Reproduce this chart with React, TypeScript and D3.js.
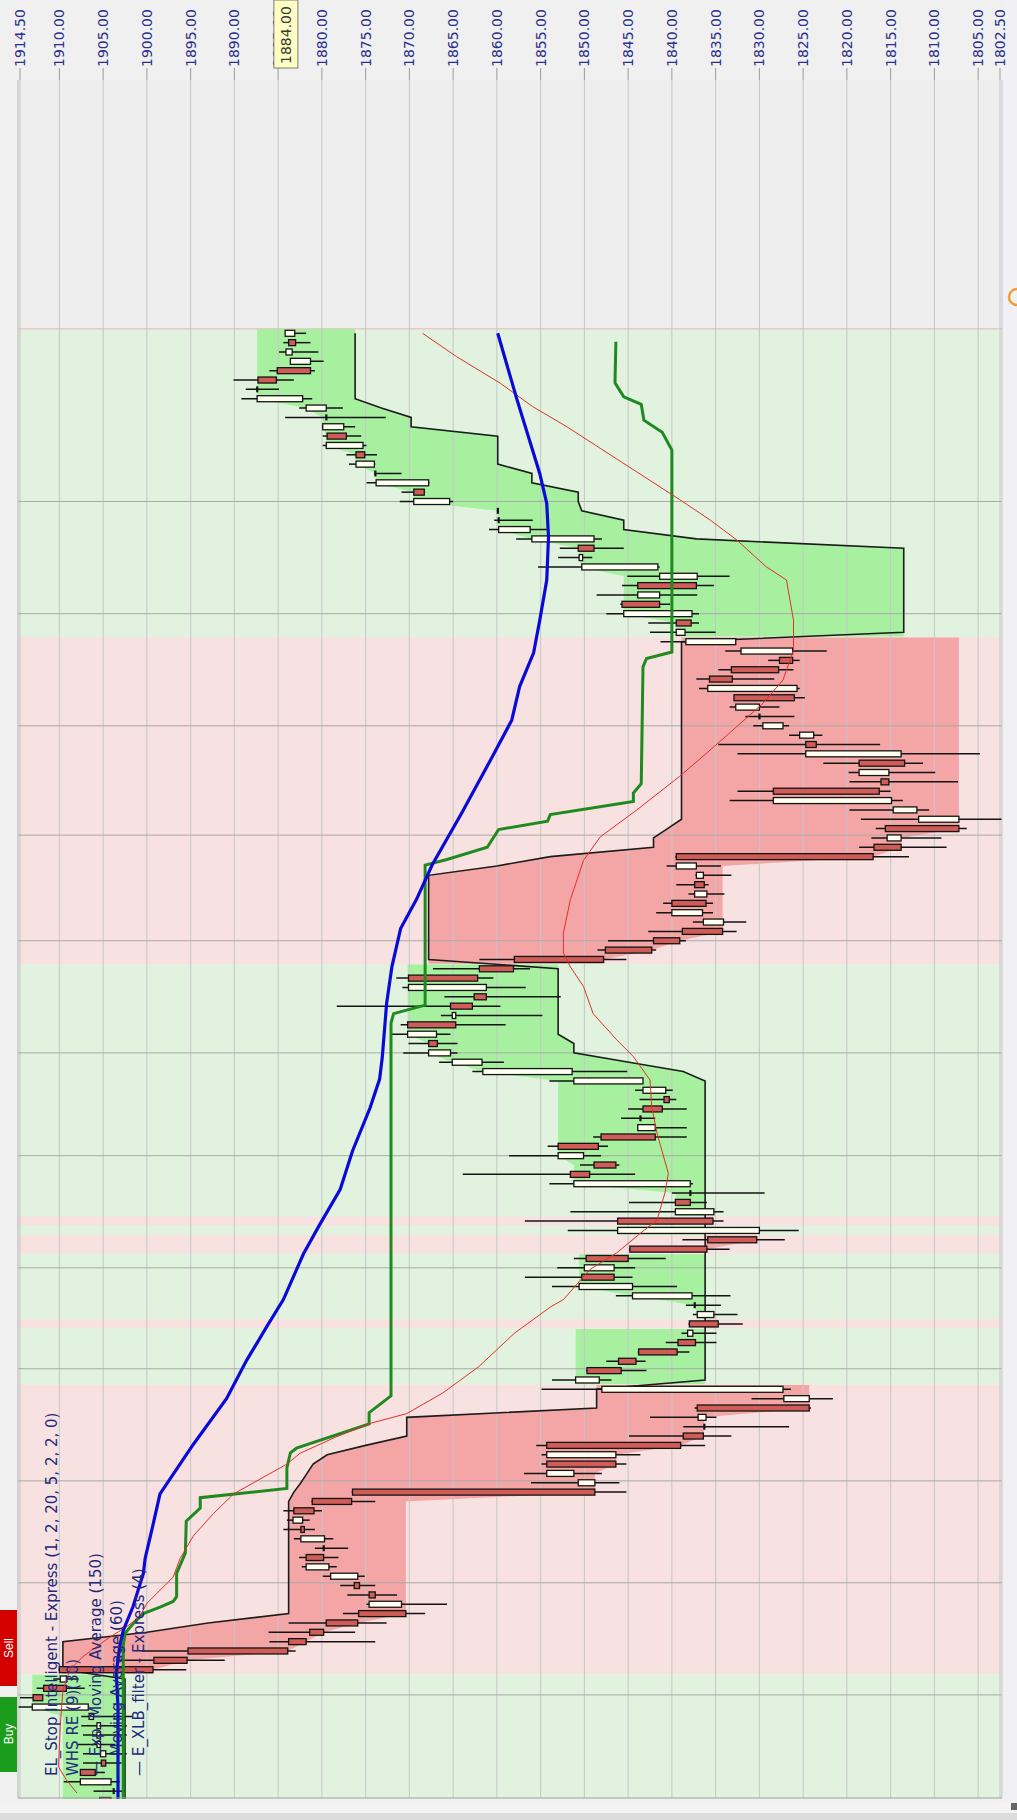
import React from 'react';
import * as d3 from 'd3';

const WIDTH = 1017;
const HEIGHT = 1820;

// price axis (rotated chart: price runs left -> right, high -> low)
const priceTicks = [1914.5, 1910, 1905, 1900, 1895, 1890, 1885, 1880, 1875, 1870, 1865, 1860, 1855, 1850, 1845, 1840, 1835, 1830, 1825, 1820, 1815, 1810, 1805, 1802.5];
const lastPrice = 1884.0;

// bars, newest first (index 0 = latest bar, drawn at the top)
const highs = [1884.2,1884.4,1884.9,1883.6,1886.0,1890.1,1888.7,1889.2,1882.6,1884.2,1880.0,1879.9,1879.9,1877.2,1876.9,1874.0,1874.9,1870.9,1871.1,1860.0,1860.3,1860.9,1857.8,1852.8,1853.0,1855.3,1845.1,1845.7,1848.6,1845.9,1847.5,1842.7,1842.5,1841.3,1833.9,1829.0,1834.7,1837.2,1836.9,1832.9,1833.4,1831.6,1830.7,1826.6,1834.7,1832.5,1822.7,1819.8,1819.7,1832.5,1833.4,1819.7,1818.4,1816.7,1817.2,1818.6,1839.6,1840.6,1837.3,1839.5,1838.1,1841.0,1841.8,1837.6,1842.7,1847.3,1848.5,1862.0,1867.3,1871.5,1870.8,1866.0,1878.3,1866.4,1871.0,1872.0,1870.1,1870.7,1866.6,1862.8,1854.0,1844.2,1843.7,1845.0,1845.8,1843.9,1849.0,1854.2,1858.6,1850.5,1863.9,1854.0,1840.0,1844.9,1851.6,1856.8,1851.9,1838.8,1844.9,1851.2,1853.1,1856.8,1853.7,1846.4,1838.4,1837.6,1838.1,1838.9,1840.7,1843.9,1847.5,1849.8,1853.7,1854.9,1830.9,1837.4,1842.5,1838.7,1844.9,1855.5,1854.9,1854.9,1856.9,1856.1,1876.6,1881.2,1884.4,1884.0,1884.4,1883.2,1880.8,1882.6,1882.3,1879.9,1877.9,1877.1,1874.9,1877.6,1883.8,1886.1,1886.0,1900.6,1903.5,1910.1,1910.7,1912.6,1914.5,1914.7,1907.5,1907.5,1907.3,1908.0,1907.3,1907.3,1907.6,1909.5,1906.1,1905.4];
const lows = [1881.8,1881.3,1880.4,1879.8,1880.8,1883.2,1884.9,1881.1,1877.6,1872.7,1876.2,1875.5,1874.9,1873.7,1873.9,1870.9,1867.7,1868.2,1865.0,1859.8,1855.9,1854.3,1848.0,1845.5,1849.1,1841.4,1833.4,1835.2,1837.1,1840.2,1836.9,1836.9,1835.0,1832.7,1822.3,1825.4,1826.1,1828.3,1825.4,1824.8,1827.7,1826.0,1826.6,1822.8,1816.2,1804.8,1811.3,1809.9,1807.3,1815.0,1813.6,1810.6,1802.1,1806.3,1809.2,1808.6,1812.9,1834.4,1833.2,1835.8,1834.0,1835.3,1835.3,1831.5,1832.6,1838.4,1841.8,1845.2,1856.2,1860.4,1856.7,1852.7,1859.6,1854.8,1859.0,1865.3,1864.5,1864.5,1859.2,1845.1,1843.3,1839.9,1839.5,1838.3,1841.9,1838.3,1838.3,1847.3,1848.1,1846.0,1844.2,1837.6,1829.4,1836.0,1834.1,1834.1,1825.5,1827.1,1833.4,1840.7,1844.2,1844.5,1839.4,1833.3,1834.4,1832.5,1831.9,1834.9,1834.9,1838.0,1843.0,1842.9,1846.9,1826.4,1821.6,1824.1,1834.9,1826.6,1833.2,1836.2,1843.6,1845.2,1848.0,1846.0,1845.2,1873.9,1880.0,1881.4,1880.8,1878.7,1877.0,1878.1,1878.3,1875.1,1873.9,1871.4,1865.7,1868.2,1872.6,1876.2,1873.9,1883.0,1891.1,1895.5,1907.8,1907.1,1912.0,1906.6,1901.6,1902.3,1902.3,1903.6,1902.3,1902.9,1904.8,1903.1,1902.5,1904.1];
const opens = [1883.1,1883.8,1883.4,1881.3,1885.1,1887.3,1887.4,1882.2,1879.5,1879.5,1877.5,1879.4,1875.3,1876.1,1874.0,1873.9,1867.8,1869.5,1865.4,1859.9,1859.8,1856.2,1848.9,1850.7,1850.2,1841.6,1837.1,1843.9,1841.4,1845.7,1837.7,1839.5,1838.5,1832.7,1826.2,1827.7,1833.2,1835.7,1825.7,1832.9,1830.0,1830.0,1827.3,1823.8,1824.7,1813.8,1818.6,1815.2,1816.1,1828.4,1814.9,1812.0,1807.2,1815.6,1813.8,1816.9,1839.5,1837.2,1836.4,1837.4,1836.0,1840.0,1836.5,1834.1,1838.8,1842.1,1847.6,1858.0,1862.0,1870.1,1861.2,1862.6,1865.3,1864.7,1870.2,1866.9,1867.8,1865.3,1861.7,1851.4,1843.3,1840.7,1840.9,1843.3,1843.6,1841.9,1848.1,1853.0,1850.1,1848.9,1851.6,1837.9,1837.9,1839.6,1835.2,1846.2,1830.0,1835.9,1844.8,1849.8,1846.6,1850.3,1844.5,1837.7,1837.4,1835.2,1838.0,1837.6,1839.3,1843.8,1846.1,1849.7,1848.3,1827.3,1824.3,1837.1,1836.1,1836.3,1838.7,1854.3,1846.4,1854.3,1851.2,1848.8,1876.5,1881.1,1883.2,1882.2,1882.4,1879.7,1879.8,1881.8,1879.2,1875.9,1876.3,1874.6,1870.9,1875.8,1879.5,1881.4,1883.8,1895.3,1899.2,1910.0,1909.2,1911.8,1913.0,1906.7,1906.1,1905.3,1905.3,1905.3,1904.7,1905.2,1907.6,1904.1,1903.8,1905.4];
const closes = [1884.2,1883.0,1884.1,1883.6,1881.3,1885.2,1887.4,1887.4,1881.8,1879.5,1879.9,1877.2,1879.5,1875.1,1876.1,1873.9,1873.8,1868.3,1869.5,1859.9,1859.8,1859.8,1856.0,1848.9,1850.6,1850.3,1841.4,1837.2,1843.9,1841.4,1845.5,1837.8,1839.5,1838.4,1832.1,1826.2,1827.8,1833.1,1835.9,1826.0,1832.7,1830.0,1829.6,1825.4,1823.5,1824.7,1813.4,1818.6,1815.2,1816.3,1828.4,1814.7,1811.8,1807.2,1815.4,1813.8,1817.0,1839.5,1837.2,1836.3,1837.4,1836.1,1840.0,1836.4,1834.2,1839.1,1842.3,1847.8,1858.1,1862.2,1870.1,1861.2,1862.8,1865.1,1864.7,1870.2,1866.8,1867.8,1865.1,1861.6,1851.2,1843.3,1840.3,1841.1,1843.6,1843.9,1841.9,1848.4,1853.0,1846.4,1849.4,1851.2,1837.9,1837.9,1839.6,1835.3,1846.2,1830.3,1836.0,1845.0,1850.0,1846.6,1850.6,1844.5,1837.4,1837.1,1834.7,1838.2,1837.3,1839.4,1844.1,1845.8,1851.0,1848.0,1827.2,1824.3,1837.0,1836.3,1836.4,1839.0,1854.3,1846.4,1854.3,1850.7,1848.8,1876.6,1880.9,1883.3,1882.0,1882.4,1879.8,1879.8,1881.8,1879.0,1875.7,1873.9,1874.6,1870.4,1875.9,1879.8,1881.8,1883.9,1895.4,1899.3,1909.9,1909.2,1911.9,1913.1,1906.6,1905.7,1905.7,1905.7,1905.3,1904.7,1905.9,1907.6,1903.8,1904.1];

// EL_Stop Intelligent stop level per bar (newest first)
const stops = [1876.2,1876.2,1876.2,1876.2,1876.2,1876.2,1876.2,1876.2,1873.2,1869.8,1869.8,1859.9,1859.9,1859.9,1859.9,1856.0,1856.0,1850.7,1850.7,1850.3,1845.5,1845.5,1837.2,1813.5,1813.5,1813.5,1813.5,1813.5,1813.5,1813.5,1813.5,1813.5,1813.5,1838.9,1838.9,1838.9,1838.9,1838.9,1838.9,1838.9,1838.9,1838.9,1838.9,1838.9,1838.9,1838.9,1838.9,1838.9,1838.9,1838.9,1838.9,1838.9,1838.9,1840.5,1842.1,1842.1,1853.9,1860.0,1867.8,1867.8,1867.8,1867.8,1867.8,1867.8,1867.8,1867.8,1867.8,1867.8,1853.0,1853.0,1853.0,1853.0,1853.0,1853.0,1853.0,1853.0,1851.2,1851.2,1844.9,1838.7,1836.2,1836.2,1836.2,1836.2,1836.2,1836.2,1836.2,1836.2,1836.2,1836.2,1836.2,1836.2,1836.2,1836.2,1836.2,1836.2,1836.2,1836.2,1836.2,1836.2,1836.2,1836.2,1836.2,1836.2,1836.2,1836.2,1836.2,1836.2,1836.2,1836.2,1836.2,1836.2,1836.2,1848.6,1848.6,1848.6,1870.3,1870.3,1870.3,1875.0,1879.4,1881.0,1881.7,1882.4,1883.2,1883.8,1883.8,1883.8,1883.8,1883.8,1883.8,1883.8,1883.8,1883.8,1883.8,1883.8,1883.8,1883.8,1893.0,1900.0,1909.6,1909.6,1909.6,1909.6,1902.5,1902.5,1902.5,1902.5,1902.5,1902.5,1902.5,1902.5,1902.5,1902.5,1902.5,1902.5,1902.5,1902.5];

// signal runs [firstBar, lastBar, direction] (1 = long / green, -1 = short / red)
const signalRuns: [number, number, number][] = [[0,32,1],[33,67,-1],[68,94,1],[95,95,-1],[96,96,1],[97,98,-1],[99,105,1],[106,106,-1],[107,112,1],[113,143,-1],[144,157,1]];
const firstRunExtreme = 1909.6;

// time grid lines (in bar units)
const timeGrid = [18, 30, 42, 53.7, 65, 77, 88, 100, 110.8, 122.8, 133.7, 145.7];

// indicator lines: [bar, price]
const blueLine: [number, number][] = [[0,1859.9],[7.1,1857.7],[15,1855.1],[18.2,1854.3],[21.8,1854.1],[26.4,1854.3],[30.7,1855.1],[34.2,1855.8],[37.8,1857.4],[41.4,1858.3],[45.1,1860.4],[51.3,1864.0],[56.9,1867.4],[60.6,1869.2],[63.7,1871.0],[67.8,1872.0],[71.7,1872.6],[77.5,1873.1],[79.8,1873.4],[82.9,1874.5],[87.5,1876.5],[91.6,1877.9],[95.3,1880.2],[98.5,1882.1],[103.4,1884.4],[106.3,1886.3],[109.9,1888.6],[114.0,1890.9],[118.9,1894.7],[124.2,1898.5],[127.5,1899.3],[131.1,1900.2],[132.7,1900.4],[136.3,1901.6],[138.8,1902.7],[140.5,1903.1],[143.4,1903.5],[147,1903.3],[157,1903.3]];
const greenLine: [number, number][] = [[0.9,1846.4],[5.3,1846.5],[6.8,1845.5],[7.6,1843.5],[9.3,1843.2],[10.6,1841.1],[12.5,1840.0],[34.1,1840.0],[34.8,1842.9],[35.7,1843.3],[48.2,1843.5],[49.2,1844.4],[50.1,1844.4],[51.5,1853.9],[52.2,1854.2],[53.1,1859.8],[55,1861.1],[56.3,1865.7],[56.9,1868.2],[71.9,1868.2],[72.8,1871.8],[73.8,1872.1],[113.7,1872.1],[115.5,1874.6],[116.7,1874.6],[119.3,1882.9],[119.8,1883.6],[121.4,1884.0],[123.6,1884.0],[124.6,1893.9],[125.7,1893.9],[127.1,1895.5],[130.5,1895.6],[132.7,1896.6],[135.2,1896.6],[135.7,1897.0],[136.3,1898.5],[137,1900.4],[138,1901.5],[139.1,1902.5],[140.5,1902.7],[157,1902.7]];
const redLine: [number, number][] = [[0,1868.5],[2.5,1864.6],[5.35,1859.6],[7.85,1855.9],[10,1852.0],[12.3,1848.2],[17.8,1839.1],[20,1835.6],[22.1,1832.6],[25,1829.2],[26.4,1826.9],[27.5,1826.7],[30.7,1826.1],[33.9,1826.1],[37.1,1827.3],[39.6,1829.6],[42.1,1832.6],[44.9,1836.0],[47.4,1839.1],[51,1844.0],[53.9,1848.2],[56.4,1850.1],[60.6,1851.6],[64.2,1852.4],[66.3,1852.4],[67.8,1851.6],[69.9,1850.1],[72.8,1849.0],[75.6,1846.3],[77.4,1844.4],[79.9,1842.5],[82.8,1842.3],[85.6,1841.7],[89.9,1840.4],[92,1840.8],[94.9,1841.7],[96.3,1843.6],[98.4,1846.3],[100.2,1849.4],[103.4,1852.4],[104.2,1853.9],[107,1858.0],[110.6,1862.1],[113.4,1866.2],[115.6,1870.3],[116.6,1874.3],[118.1,1878.4],[119.85,1882.5],[121,1884.0],[124.2,1890.1],[126.3,1892.4],[128.7,1894.7],[131.1,1896.2],[133.1,1897.0],[134.5,1898.5],[135.9,1900.0],[137.3,1900.8],[138.4,1902.3],[139.5,1904.2],[140.5,1905.7],[141.6,1907.3],[143,1908.8],[145.2,1909.6],[149.1,1909.9],[153.4,1910.1],[154.8,1909.2],[156.2,1908.0]];

const legendItems = [
  'EL_Stop Intelligent - Express (1, 2, 20, 5, 2, 2, 0)',
  'WHS RE (9)(30)',
  '— Exp. Moving Average (150)',
  '— Moving Average (60)',
  '— E_XLB_filter - Express (4)',
];
const legendX = [52, 73, 96, 117, 139];

const PLOT = { left: 18, right: 1002, top: 80, bottom: 1798 };

export default function App() {
  const x = d3.scaleLinear().domain([1914.5, 1802.5]).range([20, 1000]);
  const y = d3.scaleLinear().domain([0, 157]).range([333.3, 1800.5]);
  const n = closes.length;

  // shaded channel between stop and running extreme close of each run
  type Pt = { i: number; stop: number; ext: number };
  const channels = signalRuns.map(([s, e, dir], k) => {
    let ext = e === n - 1 ? firstRunExtreme : closes[e];
    const pts: Pt[] = [];
    for (let i = e; i >= s; i--) {
      ext = dir > 0 ? Math.max(ext, closes[i]) : Math.min(ext, closes[i]);
      pts.push({ i, stop: stops[i], ext });
    }
    const first = pts[0];
    const last = pts[pts.length - 1];
    const full = [{ ...first, i: e + 0.45 }, ...pts, { ...last, i: s - 0.45 }];
    return { dir, pts: full, key: k };
  });

  const area = d3.area<Pt>().y((d) => y(d.i)).x0((d) => x(d.stop)).x1((d) => x(d.ext));
  const stopLine = d3.line<number>().x((d) => x(d)).y((_, i) => y(i));
  const pline = d3.line<[number, number]>().x((d) => x(d[1])).y((d) => y(d[0]));

  const bodyH = 6;

  return (
    <svg width={WIDTH} height={HEIGHT} style={{ display: 'block', position: 'absolute', left: 0, top: 0 }} fontFamily="'DejaVu Sans', Verdana, sans-serif">
      <defs>
        <clipPath id="plotClip">
          <rect x={PLOT.left} y={PLOT.top} width={PLOT.right - PLOT.left} height={PLOT.bottom - PLOT.top + 1} />
        </clipPath>
      </defs>
      <rect x={0} y={0} width={WIDTH} height={HEIGHT} fill="#f0f0f0" />
      <rect x={PLOT.right} y={0} width={WIDTH - PLOT.right} height={HEIGHT} fill="#f1f1f5" />
      <rect x={PLOT.left} y={PLOT.top} width={PLOT.right - PLOT.left} height={PLOT.bottom - PLOT.top} fill="#eeeeee" />
      <rect x={0} y={1803} width={WIDTH} height={10} fill="#f3f3f3" />
      <rect x={0} y={1813} width={WIDTH} height={7} fill="#dcdcdc" />

      <g clipPath="url(#plotClip)">
        {/* signal bands */}
        {signalRuns.map(([s, e, dir], k) => (
          <rect key={k} x={PLOT.left} y={y(s - 0.5)} width={PLOT.right - PLOT.left} height={y(e + 0.5) - y(s - 0.5)} fill={dir > 0 ? '#e1f3df' : '#f8e1e1'} />
        ))}
        <line x1={PLOT.left} x2={PLOT.right} y1={y(-0.5)} y2={y(-0.5)} stroke="#ecc8c8" strokeWidth={1.5} />
        {/* channel shading */}
        {channels.map((c) => (
          <path key={c.key} d={area(c.pts) || ''} fill={c.dir > 0 ? '#a6f0a0' : '#f4a6a6'} />
        ))}
        {/* grid */}
        {priceTicks.map((p) => (
          <line key={p} x1={x(p)} x2={x(p)} y1={PLOT.top} y2={PLOT.bottom} stroke="#c6c6c6" strokeWidth={1} />
        ))}
        {timeGrid.map((b) => (
          <line key={b} x1={PLOT.left} x2={PLOT.right} y1={y(b)} y2={y(b)} stroke="#a9a9a9" strokeWidth={1} />
        ))}
        {/* stop line */}
        <path d={stopLine(stops) || ''} fill="none" stroke="#1c1c1c" strokeWidth={1.6} />
        {/* candles */}
        {closes.map((c, i) => {
          const o = opens[i];
          const yy = y(i);
          const top = Math.max(o, c);
          const bot = Math.min(o, c);
          const doji = Math.abs(o - c) < 0.15;
          return (
            <g key={i}>
              <line x1={x(highs[i])} x2={x(lows[i])} y1={yy} y2={yy} stroke="#141414" strokeWidth={1.5} />
              {doji ? (
                <rect x={x(o) - 1} y={yy - bodyH / 2} width={2.2} height={bodyH} fill="#141414" />
              ) : (
                <rect x={x(top)} y={yy - bodyH / 2} width={x(bot) - x(top)} height={bodyH} fill={c > o ? '#fffff2' : '#cf5c56'} stroke="#141414" strokeWidth={1.3} />
              )}
            </g>
          );
        })}
        {/* indicator lines */}
        <path d={pline(greenLine) || ''} fill="none" stroke="#1f8a1f" strokeWidth={3} />
        <path d={pline(redLine) || ''} fill="none" stroke="#e2302a" strokeWidth={1} />
        <path d={pline(blueLine) || ''} fill="none" stroke="#0a0ad8" strokeWidth={3.2} />
      </g>

      {/* plot borders */}
      <line x1={PLOT.left} x2={PLOT.left} y1={PLOT.top} y2={PLOT.bottom} stroke="#b8b8b8" />
      <line x1={PLOT.right} x2={PLOT.right} y1={PLOT.top} y2={PLOT.bottom} stroke="#c8c8c8" />
      <line x1={PLOT.left} x2={PLOT.right} y1={PLOT.bottom} y2={PLOT.bottom} stroke="#a0a0a0" />

      {/* price axis ticks and labels */}
      {priceTicks.map((p) => (
        <g key={'t' + p}>
          <line x1={x(p)} x2={x(p)} y1={68} y2={PLOT.top} stroke="#9a9a9a" />
          <text transform={`translate(${x(p)},67) rotate(-90)`} dy="0.36em" fontSize={14} fill="#2b2f8f">{p.toFixed(2)}</text>
        </g>
      ))}
      <rect x={x(lastPrice) - 13} y={0} width={24} height={68} fill="#ffffc4" stroke="#7a7a7a" strokeWidth={1} />
      <text transform={`translate(${x(lastPrice) - 1},64) rotate(-90)`} dy="0.36em" fontSize={14} fill="#3a3a3a">{lastPrice.toFixed(2)}</text>

      {/* legend */}
      {legendItems.map((t, k) => (
        <text key={t} transform={`translate(${legendX[k]},1776) rotate(-90)`} dy="0.36em" fontSize={15} fill="#1e2a7a">{t}</text>
      ))}

      {/* buy / sell buttons */}
      <rect x={0} y={1610} width={17} height={76} fill="#d40000" />
      <text transform="translate(8.5,1648) rotate(-90)" dy="0.36em" textAnchor="middle" fontSize={12} fill="#ffffff" fontFamily="Arial, 'Liberation Sans', sans-serif">Sell</text>
      <rect x={0} y={1697} width={17} height={75} fill="#1c9c1c" />
      <text transform="translate(8.5,1734) rotate(-90)" dy="0.36em" textAnchor="middle" fontSize={12} fill="#ffffff" fontFamily="Arial, 'Liberation Sans', sans-serif">Buy</text>

      {/* small marks at the right edge */}
      <path d="M1017,289 A8,8 0 0,0 1017,305" fill="none" stroke="#f0a030" strokeWidth={2.5} />
      <rect x={1011} y={1803} width={6} height={7} fill="#666" />
    </svg>
  );
}
